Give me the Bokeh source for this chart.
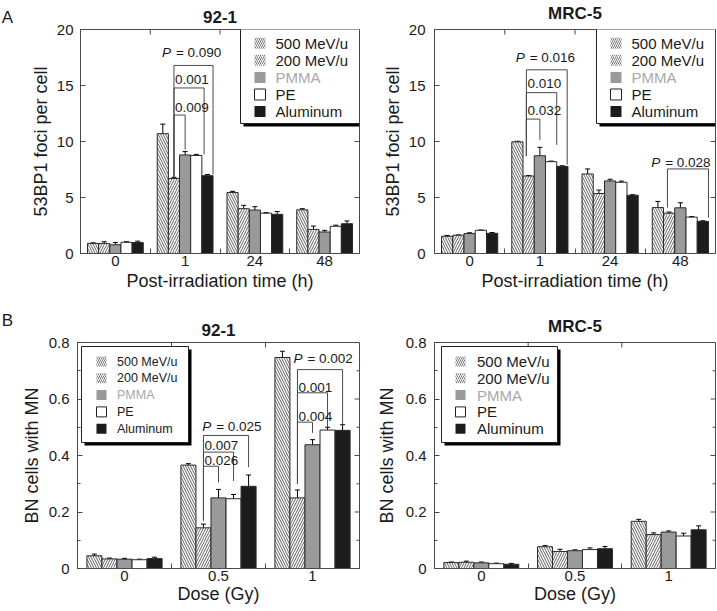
import math
from bokeh.plotting import figure
from bokeh.models import (Range1d, FixedTicker, LinearAxis, Whisker, TeeHead,
                          ColumnDataSource, BoxAnnotation, Label)
from bokeh.layouts import row, column
from bokeh.embed import file_html
from bokeh.resources import INLINE
from bokeh.core.properties import value

FONT = "Liberation Sans"
INK = "#1a1a1a"
FRAME = "#4a4a4a"

# ---------------- data ----------------
series_names = ["500 MeV/u", "200 MeV/u", "PMMA", "PE", "Aluminum"]
time_labels = ["0", "1", "24", "48"]
dose_labels = ["0", "0.5", "1"]

# A: 53BP1 foci per cell (rows = series, columns = time points)
foci_921_mean = [
    [0.90, 10.70, 5.45, 3.90],
    [0.90, 6.70, 4.00, 2.15],
    [0.78, 8.80, 3.88, 1.92],
    [1.00, 8.75, 3.60, 2.43],
    [0.98, 6.95, 3.50, 2.66],
]
foci_921_err = [
    [0.05, 0.85, 0.10, 0.10],
    [0.15, 0.10, 0.30, 0.30],
    [0.20, 0.30, 0.30, 0.15],
    [0.05, 0.10, 0.05, 0.10],
    [0.12, 0.10, 0.25, 0.25],
]
foci_mrc_mean = [
    [1.54, 9.97, 7.10, 4.10],
    [1.63, 6.92, 5.36, 3.60],
    [1.78, 8.73, 6.48, 4.08],
    [2.07, 8.20, 6.36, 3.25],
    [1.80, 7.78, 5.20, 2.87],
]
foci_mrc_err = [
    [0.07, 0.05, 0.45, 0.55],
    [0.03, 0.05, 0.30, 0.10],
    [0.07, 0.75, 0.15, 0.45],
    [0.03, 0.05, 0.10, 0.05],
    [0.07, 0.05, 0.05, 0.05],
]
# B: fraction of BN cells with MN (rows = series, columns = doses)
mn_921_mean = [
    [0.045, 0.366, 0.747],
    [0.034, 0.144, 0.250],
    [0.033, 0.250, 0.438],
    [0.031, 0.247, 0.490],
    [0.035, 0.291, 0.489],
]
mn_921_err = [
    [0.006, 0.005, 0.022],
    [0.003, 0.013, 0.028],
    [0.003, 0.030, 0.018],
    [0.002, 0.015, 0.010],
    [0.005, 0.040, 0.020],
]
mn_mrc_mean = [
    [0.021, 0.077, 0.167],
    [0.022, 0.060, 0.120],
    [0.020, 0.063, 0.129],
    [0.017, 0.067, 0.115],
    [0.015, 0.070, 0.137],
]
mn_mrc_err = [
    [0.002, 0.004, 0.007],
    [0.004, 0.008, 0.006],
    [0.003, 0.003, 0.004],
    [0.002, 0.006, 0.010],
    [0.003, 0.008, 0.014],
]

# significance brackets: (group, to_series, top, left_bottom, right_bottom, p_text, is_P,
#                         left_nudge, right_nudge, label_dx_px, label_dy_px)
br_foci_921 = [
    (1, 2, 12.36, 6.85, 9.27, "0.009", False, 0.0, 0.0, 1, 8),
    (1, 3, 14.78, 6.85, 8.85, "0.001", False, 0.0, 0.7, 1, 8),
    (1, 4, 16.79, 6.85, 7.05, "0.090", True, 0.0, 0.5, -3, 12.5),
]
br_foci_mrc = [
    (1, 2, 12.00, 8.70, 10.15, "0.032", False, -0.2, 0.0, 1, 8.3),
    (1, 3, 14.36, 8.70, 9.70, "0.010", False, -0.2, 0.5, 1, 9),
    (1, 4, 16.40, 8.70, 7.94, "0.016", True, -0.2, 0.43, -1.7, 12.5),
    (3, 4, 7.55, 4.10, 3.20, "0.028", True, -0.15, 0.5, -7.3, 6.7),
]
br_mn_921 = [
    (1, 2, 0.362, 0.17, 0.305, "0.026", False, 0.0, 0.0, 1, 5.7),
    (1, 3, 0.412, 0.17, 0.310, "0.007", False, 0.0, 0.0, 1, 6.7),
    (1, 4, 0.471, 0.17, 0.359, "0.025", True, 0.0, 0.0, 7.7, 9),
    (2, 2, 0.518, 0.30, 0.480, "0.004", False, 0.0, 0.0, 1, 6),
    (2, 3, 0.622, 0.30, 0.500, "0.001", False, 0.0, 0.0, 1, 5.6),
    (2, 4, 0.704, 0.30, 0.512, "0.002", True, 0.0, 0.0, 5, 10.7),
]

foci_ticks = [0, 5, 10, 15, 20]
foci_tick_labels = ["0", "5", "10", "15", "20"]
mn_ticks = [0, 0.2, 0.4, 0.6, 0.8]
mn_tick_labels = ["0", "0.2", "0.4", "0.6", "0.8"]
mn_minor = [0.1, 0.3, 0.5, 0.7]

# ---------------- styles ----------------
BAR_W = 0.16
bar_styles = [
    dict(fill_color="white", hatch_pattern="\\", hatch_color="#3a3a3a", hatch_scale=5, hatch_weight=0.8),
    dict(fill_color="white", hatch_pattern="/", hatch_color="#3a3a3a", hatch_scale=5, hatch_weight=0.8),
    dict(fill_color="#9a9a9a"),
    dict(fill_color="white"),
    dict(fill_color="#1c1c1c"),
]
legend_glyph_styles = [
    dict(fill_color="white", hatch_pattern="\\", hatch_color="#555555", hatch_scale=4, hatch_weight=0.8, line_color=None),
    dict(fill_color="white", hatch_pattern="/", hatch_color="#555555", hatch_scale=4, hatch_weight=0.8, line_color=None),
    dict(fill_color="#9a9a9a", line_color=None),
    dict(fill_color="white", line_color="#222222"),
    dict(fill_color="#1c1c1c", line_color=None),
]
legend_text_colors = [INK, INK, "#a8a8a8", INK, INK]

SCREEN = dict(left_units="screen", right_units="screen", top_units="screen", bottom_units="screen")


def header_axis(text, size, style, standoff):
    """A tick-less axis placed above a frame, used only to carry a heading."""
    return LinearAxis(ticker=FixedTicker(ticks=[]), axis_label=text,
                      axis_label_text_font=FONT, axis_label_text_font_size=size,
                      axis_label_text_font_style=style, axis_label_text_color=INK,
                      axis_label_standoff=standoff, major_tick_in=0, major_tick_out=0,
                      minor_tick_in=0, minor_tick_out=0, major_label_standoff=0,
                      axis_line_color=None)


def add_legend(p, fw, fh, cfg):
    width, height = cfg["width"], cfg["height"]
    left = fw - width if cfg["left"] is None else cfg["left"]
    top = cfg["top"]

    def sy(y):
        return fh - y

    p.add_layout(BoxAnnotation(left=left + 3, right=min(left + width + 3, fw),
                               top=sy(top + 3), bottom=sy(top + height + 3),
                               fill_color="black", fill_alpha=1, line_color=None, **SCREEN))
    p.add_layout(BoxAnnotation(left=left, right=left + width, top=sy(top), bottom=sy(top + height),
                               fill_color="white", fill_alpha=1, line_color="#222222", line_alpha=1,
                               line_width=1, line_dash="solid", **SCREEN))
    g = cfg["gsize"]
    for i, name in enumerate(series_names):
        cy = top + cfg["row0"] + i * cfg["step"]
        st = dict(legend_glyph_styles[i])
        p.add_layout(BoxAnnotation(left=left + cfg["gx"], right=left + cfg["gx"] + g,
                                   top=sy(cy - g / 2), bottom=sy(cy + g / 2),
                                   fill_alpha=1, line_alpha=1, line_width=1, line_dash="solid",
                                   **st, **SCREEN))
        p.add_layout(Label(x=left + cfg["tx"], y=sy(cy), x_units="screen", y_units="screen",
                           text=name, text_font=FONT, text_font_size=cfg["fs"],
                           text_color=legend_text_colors[i], text_baseline="middle", text_align="left"))


def make_letter(height, mt, mb, text, standoff):
    f = figure(width=14, height=height, x_range=Range1d(0, 1), y_range=Range1d(0, 1),
               output_backend="svg", toolbar_location=None, tools="", title=None,
               x_axis_location=None, y_axis_location=None,
               min_border_left=0, min_border_right=0, min_border_top=mt, min_border_bottom=mb,
               outline_line_color=None, background_fill_color="white", border_fill_color="white")
    f.grid.visible = False
    f.add_layout(header_axis(text, "17px", "normal", standoff), "above")
    return f


def make_panel(width, height, ml, mr, mt, mb, group_labels, ymax, yticks, ylabels, yminor,
               means, errs, brackets, title, xlabel, ylabel,
               ylab_standoff, ytick_standoff, xlab_standoff, legend_cfg):
    fw = width - ml - mr
    fh = height - mt - mb
    ng = len(group_labels)
    p = figure(width=width, height=height, x_range=Range1d(0, ng), y_range=Range1d(0, ymax),
               output_backend="svg", toolbar_location=None, tools="", title=None,
               min_border_left=ml, min_border_right=mr, min_border_top=mt, min_border_bottom=mb,
               background_fill_color="white", border_fill_color="white",
               outline_line_color=FRAME, outline_line_width=1)
    p.xgrid.visible = False
    p.ygrid.visible = False

    centers = [g + 0.5 for g in range(ng)]
    bounds = [g for g in range(1, ng)]
    xt = FixedTicker(ticks=centers, minor_ticks=bounds)
    yt = FixedTicker(ticks=yticks, minor_ticks=yminor)

    xa = p.xaxis[0]
    xa.ticker = xt
    xa.major_label_overrides = {c: l for c, l in zip(centers, group_labels)}
    xa.major_tick_in = 0
    xa.major_tick_out = 0
    xa.minor_tick_in = 5
    xa.minor_tick_out = 0
    xa.minor_tick_line_color = FRAME
    xa.axis_line_color = FRAME
    xa.major_label_standoff = 2
    xa.major_label_text_font = FONT
    xa.major_label_text_font_size = "15px"
    xa.major_label_text_color = INK
    xa.axis_label = xlabel
    xa.axis_label_text_font = FONT
    xa.axis_label_text_font_size = "18px"
    xa.axis_label_text_font_style = "normal"
    xa.axis_label_text_color = INK
    xa.axis_label_standoff = xlab_standoff

    ya = p.yaxis[0]
    ya.ticker = yt
    ya.major_label_overrides = {t: l for t, l in zip(yticks, ylabels)}
    ya.major_tick_in = 5
    ya.major_tick_out = 0
    ya.minor_tick_in = 3
    ya.minor_tick_out = 0
    ya.major_tick_line_color = FRAME
    ya.minor_tick_line_color = FRAME
    ya.axis_line_color = FRAME
    ya.major_label_standoff = ytick_standoff
    ya.major_label_text_font = FONT
    ya.major_label_text_font_size = "15px"
    ya.major_label_text_color = INK
    ya.axis_label = ylabel
    ya.axis_label_text_font = FONT
    ya.axis_label_text_font_size = "18px"
    ya.axis_label_text_font_style = "normal"
    ya.axis_label_text_color = INK
    ya.axis_label_standoff = ylab_standoff

    # panel title
    p.add_layout(header_axis(title, "17px", "bold", 7), "above")

    # mirrored inside ticks on the top and right edges of the frame
    p.ray(x=bounds, y=[ymax] * len(bounds), length=5, length_units="screen",
          angle=-math.pi / 2, line_color=FRAME, line_width=1)
    p.ray(x=[ng] * len(yticks), y=yticks, length=5, length_units="screen",
          angle=math.pi, line_color=FRAME, line_width=1)
    if yminor:
        p.ray(x=[ng] * len(yminor), y=yminor, length=3, length_units="screen",
              angle=math.pi, line_color=FRAME, line_width=1)

    # bars
    whisk = dict(x=[], upper=[], lower=[])
    for i in range(5):
        xs = [g + 0.5 + (i - 2) * BAR_W for g in range(ng)]
        src = ColumnDataSource(dict(x=xs, top=means[i]))
        p.vbar(x="x", top="top", bottom=0, width=BAR_W, source=src,
               line_color="#2a2a2a", line_width=1, **bar_styles[i])
        whisk["x"] += xs
        whisk["upper"] += [m + e for m, e in zip(means[i], errs[i])]
        whisk["lower"] += [m - e for m, e in zip(means[i], errs[i])]
    p.add_layout(Whisker(source=ColumnDataSource(whisk), base="x", upper="upper", lower="lower",
                         line_color="black", line_width=1,
                         upper_head=TeeHead(size=5, line_color="black", line_width=1),
                         lower_head=TeeHead(size=5, line_color="black", line_width=1)))

    # significance brackets
    bx, by = [], []
    sub = dict(x=[], y=[], text=[], dx=[], dy=[])
    pp = dict(x=[], y=[], text=[], dx=[], dx2=[], dy=[])
    for (g, j, top, lb, rb, txt, is_p, ln, rn, ldx, ldy) in brackets:
        xl = g + 0.5 + (1 - 2 + ln) * BAR_W
        xr = g + 0.5 + (j - 2 + rn) * BAR_W
        bx.append([xl, xl, xr, xr])
        by.append([lb, top, top, rb])
        if is_p:
            pp["x"].append(xl); pp["y"].append(top); pp["text"].append("= " + txt)
            pp["dx"].append(ldx); pp["dx2"].append(ldx + 5); pp["dy"].append(-ldy)
        else:
            sub["x"].append(xl); sub["y"].append(top); sub["text"].append(txt)
            sub["dx"].append(ldx); sub["dy"].append(-ldy)
    if bx:
        p.multi_line(bx, by, line_color=FRAME, line_width=1)
        p.text(x="x", y="y", text="text", x_offset="dx", y_offset="dy", source=ColumnDataSource(sub),
               text_font=value(FONT), text_font_size="13.5px", text_color=INK,
               text_align="left", text_baseline="middle")
        psrc = ColumnDataSource(pp)
        p.text(x="x", y="y", text=value("P"), x_offset="dx", y_offset="dy", source=psrc,
               text_font=value(FONT), text_font_size="13.5px", text_font_style="italic",
               text_color=INK, text_align="right", text_baseline="middle")
        p.text(x="x", y="y", text="text", x_offset="dx2", y_offset="dy", source=psrc,
               text_font=value(FONT), text_font_size="13.5px", text_color=INK,
               text_align="left", text_baseline="middle")

    add_legend(p, fw, fh, legend_cfg)
    return p


legA = dict(left=None, top=0, width=119, height=96, fs="15px", gx=14, gsize=11, tx=35, row0=15.7, step=17.1)
legB1 = dict(left=4, top=4, width=107, height=96, fs="12.5px", gx=15, gsize=10, tx=35.5, row0=15, step=16.8)
legB2 = dict(left=7, top=4, width=116, height=96, fs="15px", gx=14, gsize=10, tx=35.5, row0=15, step=16.8)

lA = make_letter(307, 27, 54, "A", 3)
pA1 = make_panel(348, 307, 66, 3, 27, 54, time_labels, 20, foci_ticks, foci_tick_labels, [],
                 foci_921_mean, foci_921_err, br_foci_921, "92-1",
                 "Post-irradiation time (h)", "53BP1 foci per cell", 3, 7, 2, legA)
pA2 = make_panel(354, 307, 72, 1, 27, 54, time_labels, 20, foci_ticks, foci_tick_labels, [],
                 foci_mrc_mean, foci_mrc_err, br_foci_mrc, "MRC-5",
                 "Post-irradiation time (h)", "53BP1 foci per cell", 3, 9, 2, legA)
lB = make_letter(303, 35, 42, "B", 13)
pB1 = make_panel(348, 303, 63, 3, 35, 42, dose_labels, 0.8, mn_ticks, mn_tick_labels, mn_minor,
                 mn_921_mean, mn_921_err, br_mn_921, "92-1",
                 "Dose (Gy)", "BN cells with MN", 4, 8, 0, legB1)
pB2 = make_panel(354, 303, 72, 1, 35, 42, dose_labels, 0.8, mn_ticks, mn_tick_labels, mn_minor,
                 mn_mrc_mean, mn_mrc_err, [], "MRC-5",
                 "Dose (Gy)", "BN cells with MN", 6, 8, 0, legB2)

layout = column(row(lA, pA1, pA2), row(lB, pB1, pB2))

open("out.html", "w").write(file_html(layout, INLINE))
